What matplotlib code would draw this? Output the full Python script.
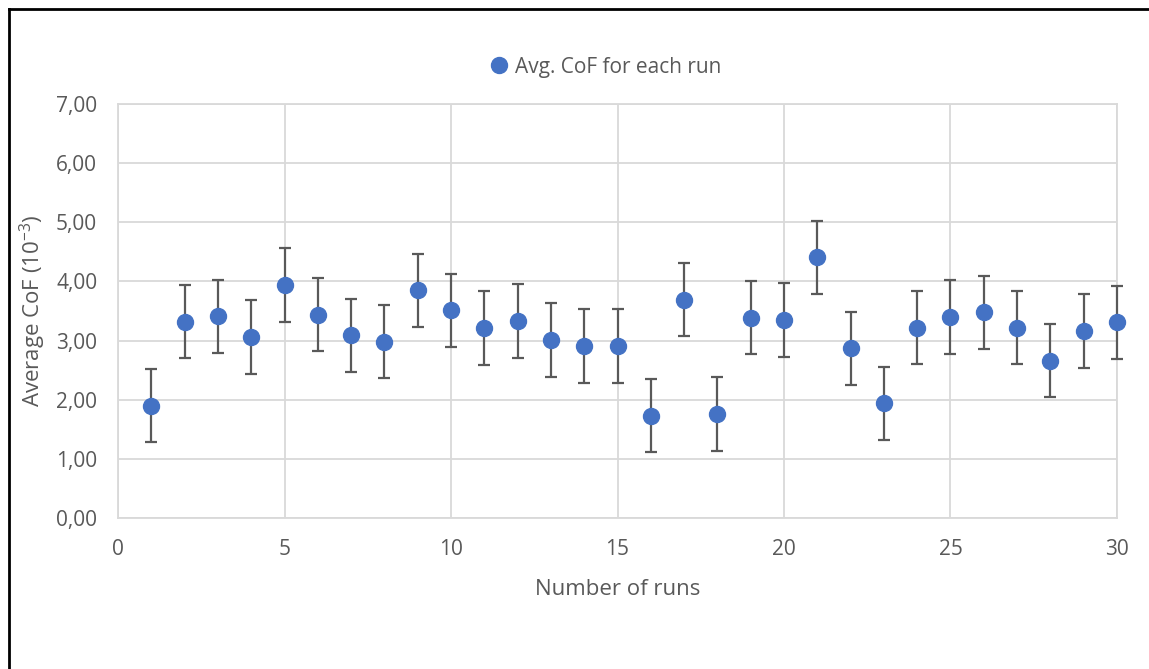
import matplotlib.pyplot as plt
from matplotlib.lines import Line2D
from matplotlib.ticker import FuncFormatter

plt.rcParams['font.family'] = ['Open Sans', 'DejaVu Sans']
plt.rcParams['mathtext.default'] = 'regular'

runs = list(range(1, 31))
avg_cof = [1.90, 3.32, 3.41, 3.06, 3.94, 3.44, 3.09, 2.98, 3.85, 3.51,
           3.21, 3.33, 3.01, 2.91, 2.91, 1.73, 3.69, 1.76, 3.39, 3.35,
           4.41, 2.87, 1.94, 3.22, 3.40, 3.48, 3.22, 2.66, 3.16, 3.31]
err = [0.62] * 30

text_col = '#595959'
grid_col = '#d9d9d9'

fig = plt.figure(figsize=(11.49, 6.69), dpi=100)
ax = fig.add_axes([118/1149, 1 - 518/669, 999/1149, 414/669])

eb = ax.errorbar(runs, avg_cof, yerr=err, fmt='o', color='#4472C4', markersize=11.5,
                 ecolor=text_col, elinewidth=1.6, capsize=4.5, capthick=1.6, zorder=3,
                 markeredgecolor='#4472C4')
eb.lines[0].set_clip_on(False)
for art in eb.lines[1] + eb.lines[2]:
    art.set_clip_on(False)

ax.set_xlim(0, 30)
ax.set_ylim(0, 7)
ax.set_xticks(range(0, 31, 5))
ax.set_yticks(range(0, 8))
ax.yaxis.set_major_formatter(FuncFormatter(lambda v, p: f'{v:.2f}'.replace('.', ',')))
ax.grid(True, color=grid_col, linewidth=1.3, zorder=0)
ax.set_axisbelow(True)
for s in ax.spines.values():
    s.set_color(grid_col)
    s.set_linewidth(1.3)
ax.tick_params(length=0, labelsize=15, colors=text_col, pad=15)

ax.set_xlabel('Number of runs', fontsize=16, color=text_col, labelpad=14)
ax.set_ylabel('Average CoF (10$^{-3}$)', fontsize=16, color=text_col, labelpad=6)

handle = Line2D([], [], marker='o', linestyle='none', color='#4472C4', markersize=11.5)
fig.legend([handle], ['Avg. CoF for each run'], loc='center', bbox_to_anchor=(0.522, 1 - 67/669),
           frameon=False, fontsize=15, labelcolor=text_col, handletextpad=-0.2)

# outer frame (top and left edges visible)
fig.add_artist(Line2D([9/1149, 1], [1 - 9/669, 1 - 9/669], color='black', linewidth=2))
fig.add_artist(Line2D([9/1149, 9/1149], [0, 1 - 9/669], color='black', linewidth=2))

fig.savefig('out.png', dpi=100, facecolor='white')
